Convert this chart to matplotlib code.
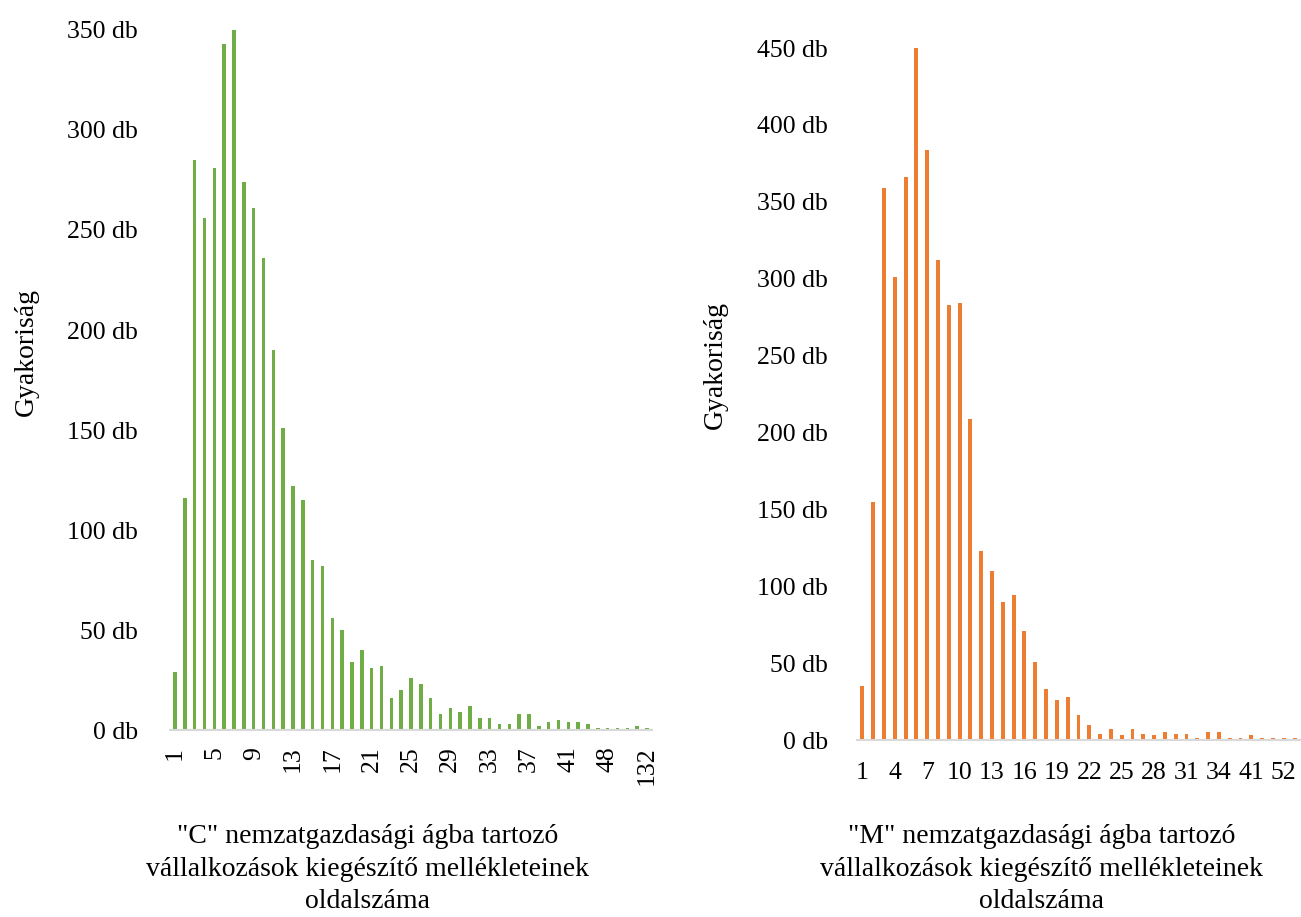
import matplotlib.pyplot as plt

plt.rcParams['font.family'] = ['Liberation Serif', 'DejaVu Serif']
plt.rcParams['font.size'] = 18.5

# "C" branch: page counts (categories) and frequencies
c_pages = list(range(1, 42)) + [42, 43, 46, 48, 53, 60, 78, 132]
c_freq = [29, 116, 285, 256, 281, 343, 350, 274, 261, 236,
          190, 151, 122, 115, 85, 82, 56, 50, 34, 40,
          31, 32, 16, 20, 26, 23, 16, 8, 11, 9,
          12, 6, 6, 3, 3, 8, 8, 2, 4, 5,
          4, 4, 3, 1, 1, 1, 1, 2, 1]

# "M" branch
m_pages = list(range(1, 35)) + [35, 38, 41, 44, 49, 52, 66]
m_freq = [35, 155, 359, 301, 366, 450, 384, 312, 283, 284,
          209, 123, 110, 90, 94, 71, 51, 33, 26, 28,
          16, 10, 4, 7, 3, 7, 4, 3, 5, 4,
          4, 1.5, 5, 5, 1, 1, 3, 1, 1, 1, 1]

x_title_c = '"C" nemzatgazdasági ágba tartozó\nvállalkozások kiegészítő mellékleteinek\noldalszáma'
x_title_m = '"M" nemzatgazdasági ágba tartozó\nvállalkozások kiegészítő mellékleteinek\noldalszáma'

fig = plt.figure(figsize=(13.01, 9.17), dpi=100)

ax1 = fig.add_axes([0.1307, 0.2039, 0.3704, 0.7634])
ax2 = fig.add_axes([0.6587, 0.1930, 0.3405, 0.7546])


def style(ax, pages, freq, color, ymax, step, rot, xpad, ypad):
    pos = list(range(len(pages)))
    ax.bar(pos, freq, width=0.36, color=color)
    ax.set_xlim(-0.5, len(pages) - 0.5)
    ax.set_ylim(0, ymax)
    ax.set_xticks(pos[::step])
    ax.set_xticklabels([str(p) for p in pages[::step]], rotation=rot)
    yt = list(range(0, ymax + 1, 50))
    ax.set_yticks(yt)
    ax.set_yticklabels([f'{v} db' for v in yt])
    for s in ['top', 'right', 'left']:
        ax.spines[s].set_visible(False)
    ax.spines['bottom'].set_color('#D9D9D9')
    ax.spines['bottom'].set_linewidth(1.5)
    ax.tick_params(axis='x', length=0, pad=xpad)
    ax.tick_params(axis='y', length=0, pad=ypad)


style(ax1, c_pages, c_freq, '#70AD47', 350, 4, 90, 12, 23)
style(ax2, m_pages, m_freq, '#ED7D31', 450, 3, 0, 16, 21)

fig.text(26 / 1301, 1 - 352 / 917, 'Gyakoriság', rotation=90, ha='center', va='center', fontsize=20)
fig.text(715 / 1301, 1 - 365 / 917, 'Gyakoriság', rotation=90, ha='center', va='center', fontsize=20)

fig.text(368 / 1301, 1 - 869 / 917, x_title_c, ha='center', va='center',
         multialignment='center', linespacing=1.42, fontsize=20)
fig.text(1042 / 1301, 1 - 869 / 917, x_title_m, ha='center', va='center',
         multialignment='center', linespacing=1.42, fontsize=20)

plt.savefig('out.png', dpi=100)
